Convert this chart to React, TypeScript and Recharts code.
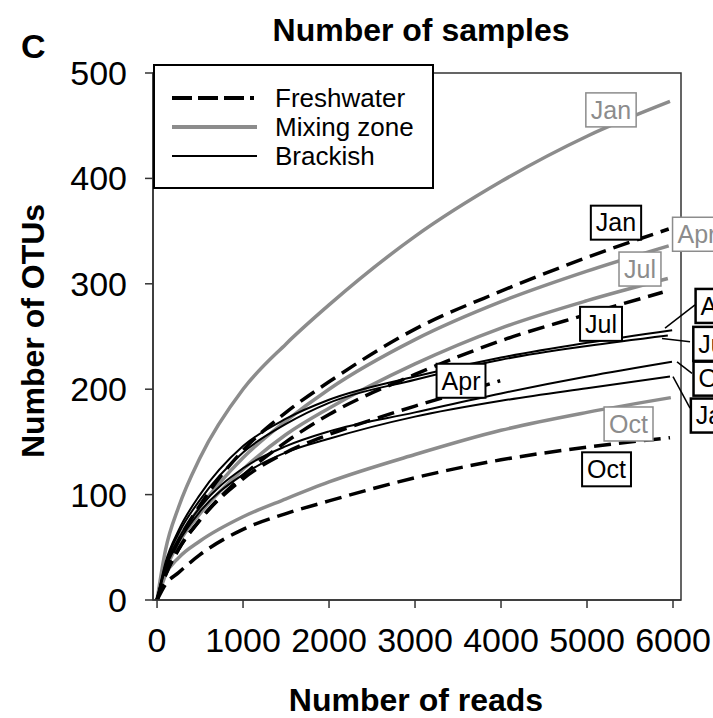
import React from 'react';
import {
  LineChart,
  Line,
  XAxis,
  YAxis,
  ReferenceArea,
  ReferenceDot,
  ReferenceLine,
  Legend,
} from 'recharts';

const FONT = '"Liberation Sans", Arial, Helvetica, sans-serif';
const GRAY = '#8c8c8c';
const AXIS = '#333333';

// axis ticks
const xTicks = [0, 1000, 2000, 3000, 4000, 5000, 6000];
const yTicks = [0, 100, 200, 300, 400, 500];

// rarefaction curves: [reads, OTUs]
const freshwaterJan = [[0, 0], [100, 28], [250, 56], [500, 90], [1000, 142], [1500, 178], [2000, 207], [3000, 257], [4000, 293], [5000, 325], [5950, 352]];
const freshwaterApr = [[0, 0], [100, 24], [250, 48], [500, 76], [1000, 115], [1500, 140], [2000, 157], [2500, 171], [3000, 184], [3500, 196], [3990, 208]];
const freshwaterJul = [[0, 0], [100, 24], [250, 48], [500, 76], [1000, 118], [1500, 150], [2000, 176], [3000, 214], [4000, 246], [5000, 271], [5880, 292]];
const freshwaterOct = [[0, 0], [100, 15], [250, 26], [500, 43], [1000, 67], [1500, 82], [2000, 94], [3000, 116], [4000, 133], [5000, 145], [5965, 154]];

const mixingJan = [[0, 0], [100, 48], [250, 88], [500, 135], [1000, 200], [1500, 243], [2000, 280], [3000, 345], [4000, 397], [5000, 440], [5965, 473]];
const mixingApr = [[0, 0], [100, 30], [250, 58], [500, 88], [1000, 135], [1500, 170], [2000, 200], [3000, 247], [4000, 283], [5000, 312], [5950, 336]];
const mixingJul = [[0, 0], [100, 28], [250, 54], [500, 82], [1000, 124], [1500, 157], [2000, 182], [3000, 224], [4000, 258], [5000, 284], [5940, 305]];
const mixingOct = [[0, 0], [100, 24], [250, 40], [500, 56], [1000, 79], [1500, 96], [2000, 112], [3000, 138], [4000, 161], [5000, 178], [5975, 192]];

const brackishApr = [[0, 0], [100, 36], [250, 66], [500, 100], [1000, 146], [1500, 172], [2000, 190], [3000, 212], [4000, 230], [5000, 244], [5990, 256]];
const brackishJul = [[0, 0], [100, 34], [250, 63], [500, 95], [1000, 140], [1500, 167], [2000, 187], [3000, 209], [4000, 228], [5000, 241], [5940, 251]];
const brackishOct = [[0, 0], [100, 32], [250, 58], [500, 88], [1000, 125], [1500, 146], [2000, 160], [3000, 178], [4000, 196], [5000, 212], [5988, 226]];
const brackishJan = [[0, 0], [100, 30], [250, 55], [500, 84], [1000, 119], [1500, 140], [2000, 153], [3000, 174], [4000, 189], [5000, 201], [5965, 212]];

// month labels placed in data coordinates
const freshLabels = [
  { text: 'Jan', x: 5337, y: 358 },
  { text: 'Jul', x: 5163, y: 262 },
  { text: 'Apr', x: 3535, y: 208 },
  { text: 'Oct', x: 5227, y: 124 },
];
const mixingLabels = [
  { text: 'Jan', x: 5279, y: 465 },
  { text: 'Apr', x: 6279, y: 347 },
  { text: 'Jul', x: 5616, y: 314 },
  { text: 'Oct', x: 5483, y: 167 },
];
const brackishLabels = [
  { text: 'Apr', x: 6547, y: 279 },
  { text: 'Jul', x: 6480, y: 243 },
  { text: 'Oct', x: 6523, y: 210 },
  { text: 'Jan', x: 6500, y: 175 },
];
// leader lines from brackish labels to curve ends
const leaders = [
  [[6256, 280], [5907, 258]],
  [[6198, 245], [5872, 248]],
  [[6221, 215], [6047, 226]],
  [[6198, 182], [6000, 212]],
];

const toPoints = (arr: number[][]) => arr.map(([x, y]) => ({ x, y }));

const charW: Record<string, number> = {
  J: 0.5, a: 0.556, n: 0.556, A: 0.667, p: 0.556, r: 0.333, u: 0.556, l: 0.222, O: 0.778, c: 0.5, t: 0.278,
};
const textWidth = (s: string, size: number) =>
  s.split('').reduce((w, ch) => w + (charW[ch] ?? 0.556), 0) * size;

function LabelBox(props: any) {
  const { cx, cy, text, color, border } = props;
  if (cx == null || cy == null) return null;
  const w = textWidth(text, 25) + 10;
  const h = 34;
  return (
    <g>
      <rect x={cx - w / 2} y={cy - h / 2} width={w} height={h} fill='#fff' stroke={color} strokeWidth={border} />
      <text x={cx} y={cy} dy='0.35em' textAnchor='middle' fontSize={25} fontFamily={FONT} fill={color}>
        {text}
      </text>
    </g>
  );
}

function LegendBox() {
  const rows = [
    { name: 'Freshwater', stroke: '#000', width: 4, dash: '20 6', x2: 99 },
    { name: 'Mixing zone', stroke: GRAY, width: 4, dash: undefined, x2: 102 },
    { name: 'Brackish', stroke: '#000', width: 2, dash: undefined, x2: 102 },
  ];
  return (
    <div style={{ width: 281, height: 125, boxSizing: 'border-box', border: '2px solid #000', background: '#fff' }}>
      <svg width={277} height={121} style={{ display: 'block' }}>
        {rows.map((r, i) => (
          <g key={r.name}>
            <line x1={17} x2={r.x2} y1={32 + i * 29} y2={32 + i * 29} stroke={r.stroke} strokeWidth={r.width} strokeDasharray={r.dash} />
            <text x={120} y={41 + i * 29} fontSize={26} fontFamily={FONT} fill='#000'>
              {r.name}
            </text>
          </g>
        ))}
      </svg>
    </div>
  );
}

export default function App() {
  const tickStyle = { fontSize: 34, fontFamily: FONT, fill: '#000' };
  const fresh = [freshwaterJan, freshwaterApr, freshwaterJul, freshwaterOct];
  const mixing = [mixingJan, mixingApr, mixingJul, mixingOct];
  const brackish = [brackishApr, brackishJul, brackishOct, brackishJan];

  return (
    <div style={{ position: 'absolute', left: 0, top: 0, width: 713, height: 718, background: '#fff', overflow: 'hidden' }}>
      <LineChart width={713} height={718} margin={{ top: 73, right: 32, left: 0, bottom: 0 }}>
        <XAxis
          type='number'
          dataKey='x'
          domain={[-47, 6093]}
          ticks={xTicks}
          interval={0}
          allowDataOverflow
          height={118}
          tickSize={8}
          tickMargin={20}
          tick={tickStyle}
          stroke={AXIS}
          strokeWidth={1.5}
        />
        <YAxis
          type='number'
          dataKey='y'
          domain={[0, 500]}
          ticks={yTicks}
          interval={0}
          allowDataOverflow
          width={153}
          tickSize={8}
          tickMargin={18}
          tick={tickStyle}
          stroke={AXIS}
          strokeWidth={1.5}
        />
        <ReferenceArea x1={-47} x2={6093} y1={0} y2={500} fill='none' stroke={AXIS} strokeWidth={1.5} ifOverflow='visible' />

        {mixing.map((d, i) => (
          <Line key={'m' + i} data={toPoints(d)} dataKey='y' type='monotone' stroke={GRAY} strokeWidth={3.5} dot={false} isAnimationActive={false} />
        ))}
        {fresh.map((d, i) => (
          <Line key={'f' + i} data={toPoints(d)} dataKey='y' type='monotone' stroke='#000' strokeWidth={3.5} strokeDasharray='17 8' dot={false} isAnimationActive={false} />
        ))}
        {brackish.map((d, i) => (
          <Line key={'b' + i} data={toPoints(d)} dataKey='y' type='monotone' stroke='#000' strokeWidth={2} dot={false} isAnimationActive={false} />
        ))}

        {leaders.map((seg, i) => (
          <ReferenceLine
            key={'l' + i}
            segment={[{ x: seg[0][0], y: seg[0][1] }, { x: seg[1][0], y: seg[1][1] }]}
            stroke='#000'
            strokeWidth={1.5}
            ifOverflow='visible'
          />
        ))}
        {freshLabels.map((l) => (
          <ReferenceDot key={'fl' + l.text} x={l.x} y={l.y} ifOverflow='visible'
            shape={(p: any) => <LabelBox cx={p.cx} cy={p.cy} text={l.text} color='#000' border={2} />} />
        ))}
        {mixingLabels.map((l) => (
          <ReferenceDot key={'ml' + l.text} x={l.x} y={l.y} ifOverflow='visible'
            shape={(p: any) => <LabelBox cx={p.cx} cy={p.cy} text={l.text} color={GRAY} border={1.5} />} />
        ))}
        {brackishLabels.map((l) => (
          <ReferenceDot key={'bl' + l.text} x={l.x} y={l.y} ifOverflow='visible'
            shape={(p: any) => <LabelBox cx={p.cx} cy={p.cy} text={l.text} color='#000' border={2.5} />} />
        ))}

        <Legend
          layout='vertical'
          align='center'
          verticalAlign='middle'
          wrapperStyle={{ left: 153, top: 64, width: 281, height: 125 }}
          content={() => <LegendBox />}
        />
      </LineChart>

      <svg width={713} height={718} style={{ position: 'absolute', left: 0, top: 0, pointerEvents: 'none' }}>
        <text x={21} y={58} fontSize={34} fontWeight='bold' fontFamily={FONT}>C</text>
        <text x={421} y={41} fontSize={32} fontWeight='bold' fontFamily={FONT} textAnchor='middle'>Number of samples</text>
        <text transform='translate(44,331) rotate(-90)' fontSize={32} fontWeight='bold' fontFamily={FONT} textAnchor='middle'>Number of OTUs</text>
        <text x={416} y={711} fontSize={32} fontWeight='bold' fontFamily={FONT} textAnchor='middle'>Number of reads</text>
      </svg>
    </div>
  );
}
